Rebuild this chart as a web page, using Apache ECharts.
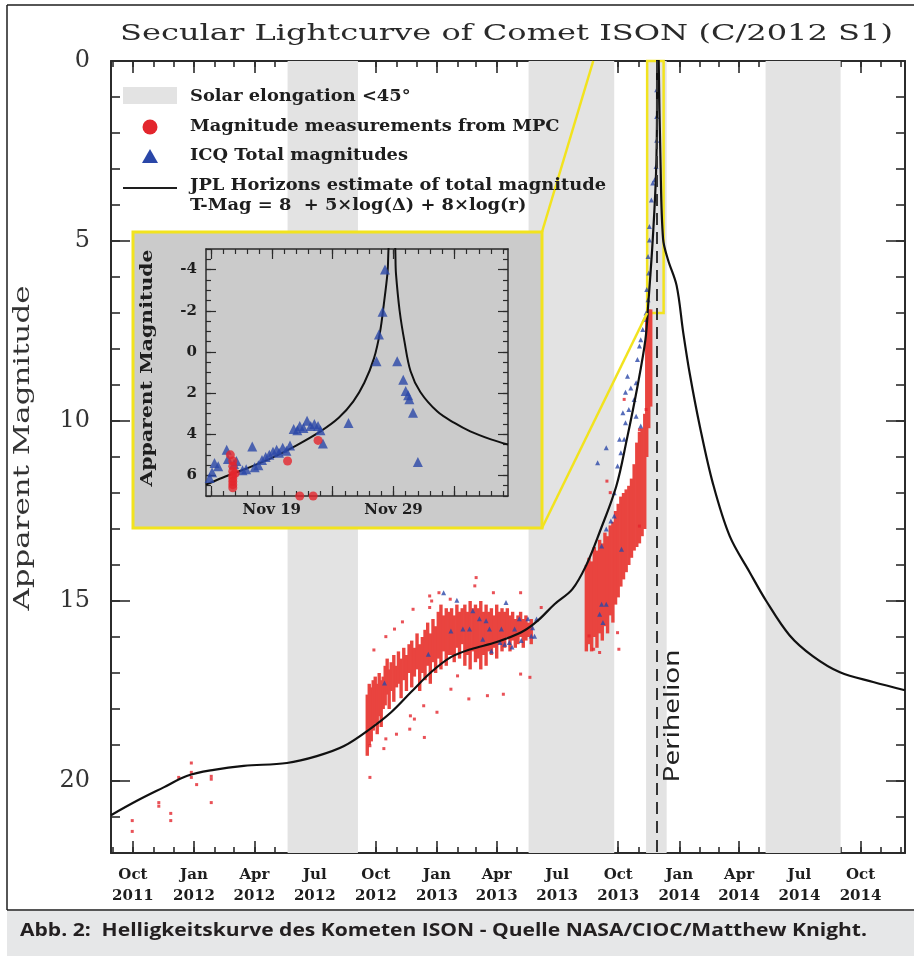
<!DOCTYPE html>
<html>
<head>
<meta charset="utf-8">
<script src="https://cdn.jsdelivr.net/npm/echarts@6/dist/echarts.min.js"></script>
<style>
  html, body { margin: 0; padding: 0; background: #fff; }
  #chart { width: 914px; height: 956px; }
</style>
</head>
<body>
<div id="chart"></div>
<script>
const DAY = 86400000;
const ts = s => Date.parse(s.length === 10 ? s + 'T00:00:00Z' : s + ':00Z');
const nov = d => Date.UTC(2013, 10, 1) + (d - 1) * DAY;   // day of Nov 2013 (32 = Dec 2)

// ---- main axes ----
const X_MIN = '2011-08-29', X_MAX = '2014-12-07';
const MAG_MIN = 0, MAG_MAX = 22;
const MAG_TICKS = [0, 5, 10, 15, 20];
const QUARTER_TICKS = ['2011-10-01', '2012-01-01', '2012-04-01', '2012-07-01', '2012-10-01',
  '2013-01-01', '2013-04-01', '2013-07-01', '2013-10-01', '2014-01-01', '2014-04-01',
  '2014-07-01', '2014-10-01'];
const MONTHS = ['Jan', 'Feb', 'Mar', 'Apr', 'May', 'Jun', 'Jul', 'Aug', 'Sep', 'Oct', 'Nov', 'Dec'];
const ELONG_BANDS = [['2012-05-21', '2012-09-04'], ['2013-05-19', '2013-09-25'],
  ['2013-11-12', '2013-12-13'], ['2014-05-11', '2014-09-01']];
const PERIHELION = '2013-11-28T19:00';

// JPL Horizons total magnitude estimate (main panel)
const jplMain = [['2011-08-29', 20.95], ['2011-10-07', 20.55], ['2011-11-17', 20.17], ['2011-12-21', 19.86],
  ['2012-01-31', 19.69], ['2012-03-16', 19.58], ['2012-05-20', 19.50], ['2012-07-04', 19.31],
  ['2012-08-14', 19.03], ['2012-09-24', 18.53], ['2012-10-24', 18.09], ['2012-11-23', 17.53],
  ['2012-12-23', 16.98], ['2013-01-22', 16.56], ['2013-02-21', 16.34], ['2013-04-01', 16.14],
  ['2013-05-08', 15.87], ['2013-06-01', 15.56], ['2013-06-27', 15.09], ['2013-07-24', 14.67],
  ['2013-08-14', 14.0], ['2013-09-03', 13.09], ['2013-09-28', 11.82], ['2013-10-14', 10.51],
  ['2013-10-30', 9.04], ['2013-11-11', 7.74], ['2013-11-15', 6.82], ['2013-11-22', 4.97],
  ['2013-11-27', 3.12], ['2013-11-28T12:00', 1.27], ['2013-11-28T19:00', -3], ['2013-12-01', 0.0],
  ['2013-12-03T16:00', 2.75], ['2013-12-07T14:00', 4.94], ['2013-12-15', 5.52], ['2013-12-28', 6.24],
  ['2014-01-07', 7.55], ['2014-01-17', 8.71], ['2014-02-01', 10.15], ['2014-02-21', 11.76],
  ['2014-03-18', 13.2], ['2014-04-17', 14.2], ['2014-05-12', 15.0], ['2014-06-16', 15.95],
  ['2014-07-21', 16.53], ['2014-08-31', 16.98], ['2014-10-20', 17.25], ['2014-12-07', 17.48]];

// MPC measurements: dense nights as [date, brightest, faintest]
const mpcColumns = [
  ['2012-09-18', 17.6, 19.3], ['2012-09-21', 17.3, 19.0], ['2012-09-24', 17.4, 18.9], ['2012-09-27', 17.2, 18.6],
  ['2012-09-30', 17.1, 18.4], ['2012-10-03', 17.3, 18.7], ['2012-10-06', 17.0, 18.2], ['2012-10-09', 17.2, 18.5],
  ['2012-10-12', 17.1, 18.0], ['2012-10-15', 16.8, 17.9], ['2012-10-18', 16.6, 17.6], ['2012-10-21', 16.9, 18.0],
  ['2012-10-24', 16.7, 17.5], ['2012-10-28', 16.5, 17.8], ['2012-11-01', 16.8, 17.4], ['2012-11-04', 16.4, 17.3],
  ['2012-11-08', 16.6, 17.7], ['2012-11-12', 16.3, 17.2], ['2012-11-16', 16.5, 17.5], ['2012-11-20', 16.2, 17.0],
  ['2012-11-24', 16.1, 17.4], ['2012-11-28', 16.3, 17.1], ['2012-12-02', 15.9, 16.9], ['2012-12-06', 16.2, 17.5],
  ['2012-12-10', 16.0, 17.0], ['2012-12-14', 15.8, 17.2], ['2012-12-18', 15.6, 16.8], ['2012-12-22', 15.9, 17.3],
  ['2012-12-26', 15.5, 16.7], ['2012-12-30', 15.7, 17.0], ['2013-01-03', 15.3, 16.6], ['2013-01-07', 15.1, 16.9],
  ['2013-01-11', 15.4, 16.4], ['2013-01-15', 15.2, 16.8], ['2013-01-19', 15.3, 16.5], ['2013-01-23', 15.2, 16.5],
  ['2013-01-27', 15.4, 16.7], ['2013-01-31', 15.1, 16.3], ['2013-02-04', 15.3, 16.6], ['2013-02-08', 15.2, 16.2],
  ['2013-02-12', 15.1, 16.8], ['2013-02-16', 15.3, 16.5], ['2013-02-20', 15.0, 16.9], ['2013-02-24', 15.2, 16.4],
  ['2013-02-28', 15.1, 16.7], ['2013-03-04', 15.2, 16.6], ['2013-03-08', 15.0, 16.9], ['2013-03-12', 15.3, 16.5],
  ['2013-03-16', 15.1, 16.8], ['2013-03-20', 15.3, 16.4], ['2013-03-24', 15.2, 16.5], ['2013-03-28', 15.4, 16.3],
  ['2013-04-01', 15.1, 16.6], ['2013-04-05', 15.3, 16.2], ['2013-04-09', 15.2, 16.4], ['2013-04-13', 15.3, 16.3],
  ['2013-04-17', 15.2, 16.0], ['2013-04-21', 15.4, 16.4], ['2013-04-25', 15.3, 16.1], ['2013-04-29', 15.5, 16.3],
  ['2013-05-03', 15.4, 16.2], ['2013-05-07', 15.3, 16.0], ['2013-05-11', 15.5, 16.3], ['2013-05-15', 15.4, 16.1],
  ['2013-05-19', 15.6, 16.0], ['2013-05-23', 15.5, 16.2],
  ['2013-08-14', 14.0, 16.4], ['2013-08-18', 13.8, 16.2], ['2013-08-22', 13.9, 16.4], ['2013-08-26', 13.5, 16.0],
  ['2013-08-30', 13.6, 16.3], ['2013-09-03', 13.3, 15.9], ['2013-09-07', 13.4, 16.1], ['2013-09-11', 13.1, 15.7],
  ['2013-09-15', 13.2, 15.9], ['2013-09-19', 12.9, 15.4], ['2013-09-23', 12.8, 15.6], ['2013-09-27', 12.5, 15.1],
  ['2013-10-01', 12.3, 14.9], ['2013-10-05', 12.1, 14.6], ['2013-10-09', 12.0, 14.4], ['2013-10-13', 11.9, 14.2],
  ['2013-10-17', 11.8, 14.0], ['2013-10-21', 11.6, 13.8], ['2013-10-25', 11.2, 13.6], ['2013-10-29', 10.6, 13.5],
  ['2013-11-02', 10.3, 13.4], ['2013-11-06', 10.2, 13.2], ['2013-11-10', 9.8, 13.0], ['2013-11-13', 7.0, 11.0],
  ['2013-11-16', 6.9, 10.2], ['2013-11-19', 6.9, 9.6]];

// MPC measurements: isolated points
const mpcPoints = [
  ['2011-09-30', 21.1], ['2011-09-30', 21.4], ['2011-11-09', 20.6], ['2011-11-09', 20.7], ['2011-11-27', 20.9],
  ['2011-11-27', 21.1], ['2011-12-09', 19.9], ['2011-12-28', 19.5], ['2011-12-28', 19.76], ['2011-12-28', 19.9],
  ['2012-01-05', 20.1], ['2012-01-27', 19.87], ['2012-01-27', 19.95], ['2012-01-27', 20.6],
  ['2012-09-22', 19.9], ['2012-10-13', 19.1], ['2012-11-01', 18.7], ['2012-11-21', 18.56], ['2012-12-13', 18.79],
  ['2013-03-18', 17.63], ['2013-04-11', 17.59], ['2013-03-01', 14.35], ['2013-02-27', 14.58], ['2013-03-27', 14.77],
  ['2013-05-07', 14.77], ['2012-12-21', 14.86], ['2013-01-04', 14.77], ['2012-10-29', 15.78], ['2012-10-16', 15.99],
  ['2012-11-10', 15.58], ['2012-09-28', 16.36], ['2013-01-01', 18.09], ['2012-11-22', 18.19], ['2012-11-28', 18.28],
  ['2012-12-12', 17.91], ['2013-01-22', 17.45], ['2013-02-01', 17.08], ['2013-02-18', 17.72], ['2013-05-07', 17.03],
  ['2013-05-21', 17.12], ['2012-10-16', 18.83], ['2012-09-22', 19.02], ['2012-11-26', 15.23], ['2012-12-21', 15.18],
  ['2012-12-24', 15.0], ['2013-01-21', 14.95],
  ['2013-06-07', 15.18], ['2013-09-14', 11.67], ['2013-09-19', 11.99], ['2013-10-10', 9.4], ['2013-11-02', 10.24],
  ['2013-08-18', 15.97], ['2013-08-25', 16.34], ['2013-10-02', 16.34], ['2013-09-30', 15.88], ['2013-09-03', 16.43],
  ['2013-11-02', 12.92], ['2013-11-12', 9.68]];

// ICQ total magnitudes (main panel)
const icqMain = [
  ['2012-10-14', 17.28], ['2012-12-19', 16.48], ['2013-01-11', 14.77], ['2013-01-22', 15.83], ['2013-01-31', 14.98],
  ['2013-02-09', 15.78], ['2013-02-19', 15.78], ['2013-02-24', 15.27], ['2013-03-06', 15.49], ['2013-03-11', 16.06],
  ['2013-03-16', 15.55], ['2013-03-21', 15.78], ['2013-03-24', 16.39], ['2013-04-06', 16.15], ['2013-04-08', 15.78],
  ['2013-04-13', 16.2], ['2013-04-15', 15.04], ['2013-04-20', 16.15], ['2013-04-24', 16.28], ['2013-04-28', 15.78],
  ['2013-05-05', 15.49], ['2013-05-08', 16.1], ['2013-05-18', 15.49], ['2013-05-23', 15.97], ['2013-05-25', 15.74],
  ['2013-05-28', 15.98], ['2013-05-31', 15.5],
  ['2013-08-31', 11.16], ['2013-09-13', 10.74], ['2013-09-06', 15.09], ['2013-09-03', 15.37], ['2013-09-13', 15.09],
  ['2013-09-08', 15.6], ['2013-10-06', 13.56], ['2013-09-20', 12.78], ['2013-09-13', 13.0], ['2013-09-06', 13.47],
  ['2013-09-25', 11.99], ['2013-09-25', 12.64], ['2013-09-30', 11.25], ['2013-10-05', 10.88], ['2013-10-10', 10.51],
  ['2013-10-08', 9.77], ['2013-10-15', 8.76], ['2013-10-20', 9.08], ['2013-10-25', 9.4], ['2013-10-28', 8.94],
  ['2013-10-30', 8.29], ['2013-11-02', 7.92], ['2013-11-04', 7.74], ['2013-11-07', 7.46], ['2013-11-09', 7.18],
  ['2013-11-12', 7.0], ['2013-10-17', 9.68], ['2013-10-12', 10.05], ['2013-10-03', 10.51], ['2013-10-12', 9.2],
  ['2013-11-04', 10.14], ['2013-10-28', 9.87],
  ['2013-11-13', 6.35], ['2013-11-15', 6.63], ['2013-11-15', 5.43], ['2013-11-16', 5.89], ['2013-11-17', 4.97],
  ['2013-11-17', 4.6], ['2013-11-20', 3.86], ['2013-11-22', 3.39], ['2013-11-25', 3.3], ['2013-11-27', 2.93],
  ['2013-11-28', 1.54], ['2013-11-28', 0.8], ['2013-11-28', 2.2]];

// ---- inset (days of Nov 2013) ----
const INSET_DAYS = [13.6, 38.4];
const INSET_MAG = [-5, 7];
const INSET_LABEL_DAYS = [19, 29];
const INSET_MAJOR_DAYS = [14, 19, 24, 29, 34];
const INSET_MAG_TICKS = [-4, -2, 0, 2, 4, 6];

const jplInset = [[13.6, 6.45], [15, 6.1], [17, 5.65], [19, 5.15], [21, 4.55], [23, 3.86], [24.5, 3.2],
  [25.7, 2.4], [26.6, 1.5], [27.4, 0.3], [27.9, -1.0], [28.2, -2.3], [28.5, -3.8], [28.7, -5.3],
  [29.05, -5.3], [29.2, -3.8], [29.5, -2.0], [29.9, -0.5], [30.4, 0.94], [31.2, 1.95], [32.6, 2.9],
  [34, 3.45], [35.3, 3.86], [37, 4.25], [38.4, 4.5]];
const icqInset = [[13.9, 6.13], [14.1, 5.85], [14.3, 5.4], [14.6, 5.55], [15.3, 4.75], [15.4, 5.2], [15.9, 5.45],
  [16.1, 5.3], [16.6, 5.75], [16.9, 5.7], [17.4, 4.6], [17.6, 5.6], [17.9, 5.5], [18.2, 5.25], [18.5, 5.1],
  [18.8, 5.0], [19.1, 4.85], [19.4, 4.75], [19.6, 4.9], [19.9, 4.65], [20.2, 4.8], [20.5, 4.55], [20.8, 3.75],
  [21.1, 3.8], [21.3, 3.6], [21.6, 3.7], [21.9, 3.35], [22.2, 3.6], [22.5, 3.5], [22.8, 3.6], [23.0, 3.8],
  [23.2, 4.45], [25.3, 3.45], [27.6, 0.45], [27.8, -0.85], [28.1, -1.95], [28.3, -4.0], [29.3, 0.45],
  [29.8, 1.35], [30.0, 1.9], [30.2, 2.1], [30.3, 2.3], [30.6, 2.95], [31.0, 5.35]];
const mpcInset = [[15.6, 5.0], [15.8, 5.3], [15.8, 5.55], [15.8, 5.8], [15.8, 6.0], [15.8, 6.15], [15.8, 6.3],
  [15.8, 6.45], [15.8, 6.6], [16.0, 5.9], [20.3, 5.3], [21.3, 7.0], [22.4, 7.0], [22.8, 4.3]];

// ---- styling ----
const RED = '#e3262d', CLOUD = '#e9443f', BLUE = '#2a47a8', YELLOW = '#f2e31e', INK = '#1e1e1e', AX = '#2b2b2b';
const SERIF = '"DejaVu Serif", serif';

const monthTicks = [], magMinor = [], insetMinorDays = [], insetMinorMag = [];
for (let y = 2011; y <= 2014; y++) for (let m = 0; m < 12; m++) {
  const t = Date.UTC(y, m, 1);
  if (t >= ts(X_MIN) && t <= ts(X_MAX)) monthTicks.push(t);
}
for (let m = MAG_MIN; m <= MAG_MAX; m++) magMinor.push(m);
for (let d = 14; d <= 38; d++) insetMinorDays.push(nov(d));
for (let m = INSET_MAG[0]; m <= INSET_MAG[1]; m += 0.5) insetMinorMag.push(m);

const meas = document.createElement('canvas').getContext('2d');
const widthOf = (text, font) => { meas.font = font; return meas.measureText(text).width; };
function label(text, font, x, y, opts) {
  opts = opts || {};
  const sx = opts.width ? opts.width / widthOf(text, font) : (opts.scale || 1);
  const align = opts.align || 'left';
  return {
    type: 'text', x, y, scaleX: sx, rotation: opts.rotation || 0, z: opts.z || 20,
    style: { text, font, fill: opts.color || INK, align, textAlign: align,
      verticalAlign: 'middle', textVerticalAlign: 'middle' }
  };
}

// axis builders (x values are UTC milliseconds on a plain value axis)
function xAxisDef(grid, pos, min, max, ticks, len, lab, line, z) {
  return {
    type: 'value', gridIndex: grid, position: pos, min, max, z: z || 0, scale: true,
    splitLine: { show: false },
    axisLine: { show: line, onZero: false, lineStyle: { color: AX, width: grid ? 1.5 : 2 } },
    axisTick: { show: true, inside: true, length: len, customValues: ticks,
      lineStyle: { color: AX, width: grid ? 1.2 : 1.6 } },
    axisLabel: lab || { show: false }
  };
}
function yAxisDef(grid, pos, min, max, ticks, len, lab, line, z) {
  return {
    type: 'value', gridIndex: grid, position: pos, min, max, inverse: true, z: z || 0,
    splitLine: { show: false },
    axisLine: { show: line, onZero: false, lineStyle: { color: AX, width: grid ? 1.5 : 2 } },
    axisTick: { show: true, inside: true, length: len, customValues: ticks,
      lineStyle: { color: AX, width: grid ? 1.2 : 1.6 } },
    axisLabel: lab || { show: false }
  };
}

const xMin = ts(X_MIN), xMax = ts(X_MAX);
const qTicks = QUARTER_TICKS.map(ts);
const iMin = nov(INSET_DAYS[0]), iMax = nov(INSET_DAYS[1]);
const iMajor = INSET_MAJOR_DAYS.map(nov);

const xAxes = [
  xAxisDef(0, 'bottom', xMin, xMax, qTicks, 12, {
    customValues: qTicks, margin: 12, lineHeight: 21, color: INK,
    fontFamily: SERIF, fontSize: 15, fontWeight: 'bold',
    formatter: v => { const d = new Date(v); return MONTHS[d.getUTCMonth()] + '\n' + d.getUTCFullYear(); }
  }, true),
  xAxisDef(0, 'bottom', xMin, xMax, monthTicks, 6, null, false),
  xAxisDef(0, 'top', xMin, xMax, qTicks, 12, null, true),
  xAxisDef(0, 'top', xMin, xMax, monthTicks, 6, null, false),
  xAxisDef(1, 'bottom', iMin, iMax, iMajor, 10, {
    customValues: INSET_LABEL_DAYS.map(nov), margin: 7, color: INK,
    fontFamily: SERIF, fontSize: 15, fontWeight: 'bold',
    formatter: v => MONTHS[new Date(v).getUTCMonth()] + ' ' + new Date(v).getUTCDate()
  }, true, 12),
  xAxisDef(1, 'bottom', iMin, iMax, insetMinorDays, 5, null, false, 12),
  xAxisDef(1, 'top', iMin, iMax, iMajor, 10, null, true, 12),
  xAxisDef(1, 'top', iMin, iMax, insetMinorDays, 5, null, false, 12)
];
const yAxes = [
  yAxisDef(0, 'left', MAG_MIN, MAG_MAX, MAG_TICKS, 19, {
    customValues: MAG_TICKS, margin: 21, color: '#333', fontFamily: SERIF, fontSize: 24
  }, true),
  yAxisDef(0, 'left', MAG_MIN, MAG_MAX, magMinor, 9, null, false),
  yAxisDef(0, 'right', MAG_MIN, MAG_MAX, MAG_TICKS, 19, null, true),
  yAxisDef(0, 'right', MAG_MIN, MAG_MAX, magMinor, 9, null, false),
  yAxisDef(1, 'left', INSET_MAG[0], INSET_MAG[1], INSET_MAG_TICKS, 10, {
    customValues: INSET_MAG_TICKS, margin: 9, color: INK, fontFamily: SERIF, fontSize: 15, fontWeight: 'bold'
  }, true, 12),
  yAxisDef(1, 'left', INSET_MAG[0], INSET_MAG[1], insetMinorMag, 5, null, false, 12),
  yAxisDef(1, 'right', INSET_MAG[0], INSET_MAG[1], INSET_MAG_TICKS, 10, null, true, 12),
  yAxisDef(1, 'right', INSET_MAG[0], INSET_MAG[1], insetMinorMag, 5, null, false, 12)
];

// inset box (outer, with yellow frame) in pixels
const BOX = { left: 133, top: 232, right: 542, bottom: 528 };

const legendFont = 'bold 16px ' + SERIF;
const legendScale = 416 / widthOf('JPL Horizons estimate of total magnitude', legendFont);
const legendRows = [
  ['Solar elongation <45°', 97], ['Magnitude measurements from MPC', 127], ['ICQ Total magnitudes', 156],
  ['JPL Horizons estimate of total magnitude', 186], ['T-Mag = 8  + 5×log(Δ) + 8×log(r)', 206]];

const graphics = [
  { type: 'rect', z: 0, shape: { x: 7, y: 911, width: 907, height: 45 }, style: { fill: '#e6e7e8' } },
  { type: 'line', z: 30, shape: { x1: 7, y1: 5, x2: 914, y2: 5 }, style: { stroke: INK, lineWidth: 1.5 } },
  { type: 'line', z: 30, shape: { x1: 7, y1: 5, x2: 7, y2: 910 }, style: { stroke: INK, lineWidth: 1.5 } },
  { type: 'line', z: 30, shape: { x1: 7, y1: 910, x2: 914, y2: 910 }, style: { stroke: INK, lineWidth: 1.5 } },
  label('Secular Lightcurve of Comet ISON (C/2012 S1)', '23px ' + SERIF, 120, 34, { width: 773, color: '#2a2a2a' }),
  label('Apparent Magnitude', '22px ' + SERIF, 23, 448, { width: 325, rotation: Math.PI / 2, align: 'center', color: '#333' }),
  // legend
  { type: 'rect', z: 20, shape: { x: 123, y: 87, width: 54, height: 17 }, style: { fill: '#e3e3e3' } },
  { type: 'circle', z: 20, shape: { cx: 150, cy: 127, r: 7.5 }, style: { fill: RED } },
  { type: 'polygon', z: 20, shape: { points: [[142, 163], [158, 163], [150, 149]] }, style: { fill: BLUE } },
  { type: 'line', z: 20, shape: { x1: 123, y1: 188, x2: 177, y2: 188 }, style: { stroke: INK, lineWidth: 2 } },
  ...legendRows.map(([t, y]) => label(t, legendFont, 190, y, { scale: legendScale })),
  label('Perihelion', '21px "Noto Sans", sans-serif', 673.5, 716, { width: 133, rotation: Math.PI / 2, align: 'center', color: '#222' }),
  // inset panel
  { type: 'rect', z: 10, shape: { x: BOX.left, y: BOX.top, width: BOX.right - BOX.left, height: BOX.bottom - BOX.top },
    style: { fill: '#cbcbcb', stroke: YELLOW, lineWidth: 3 } },
  label('Apparent Magnitude', 'bold 16px ' + SERIF, 148, 368, { width: 237, rotation: Math.PI / 2, align: 'center', z: 13 }),
  // caption
  label('Abb. 2:  Helligkeitskurve des Kometen ISON - Quelle NASA/CIOC/Matthew Knight.',
    'bold 18px "Open Sans", sans-serif', 20, 931, { width: 847, color: '#231f20' })
];

const option = {
  animation: false,
  backgroundColor: '#fff',
  grid: [
    { left: 111, top: 61, width: 794, height: 792, outerBoundsMode: 'none' },
    { left: 206, top: 249, width: 302, height: 247, outerBoundsMode: 'none', z: 12 }
  ],
  xAxis: xAxes,
  yAxis: yAxes,
  graphic: graphics,
  series: [
    {
      name: 'Solar elongation <45°', type: 'line', xAxisIndex: 0, yAxisIndex: 0, data: [], z: 1, silent: true,
      markArea: { silent: true, itemStyle: { color: '#e3e3e3' },
        data: ELONG_BANDS.map(([a, b]) => [{ xAxis: ts(a) }, { xAxis: ts(b) }]) }
    },
    {
      name: 'MPC nights', type: 'custom', xAxisIndex: 0, yAxisIndex: 0, z: 2, clip: true, silent: true,
      encode: { x: 0, y: [1, 2] },
      data: mpcColumns.map(([d, a, b]) => [ts(d), a, b]),
      renderItem: (params, api) => {
        const p = api.coord([api.value(0), api.value(1)]);
        const q = api.coord([api.value(0), api.value(2)]);
        return { type: 'rect', shape: { x: p[0] - 1.7, y: p[1], width: 3.4, height: q[1] - p[1] },
          style: { fill: CLOUD } };
      }
    },
    {
      name: 'Magnitude measurements from MPC', type: 'scatter', xAxisIndex: 0, yAxisIndex: 0, z: 2,
      symbol: 'rect', symbolSize: 3, itemStyle: { color: RED },
      data: mpcPoints.map(([d, m]) => [ts(d), m])
    },
    {
      name: 'ICQ Total magnitudes', type: 'scatter', xAxisIndex: 0, yAxisIndex: 0, z: 3,
      symbol: 'triangle', symbolSize: 5, itemStyle: { color: BLUE },
      data: icqMain.map(([d, m]) => [ts(d), m])
    },
    {
      name: 'JPL Horizons estimate of total magnitude', type: 'line', xAxisIndex: 0, yAxisIndex: 0, z: 4,
      showSymbol: false, smooth: 0.35, clip: true,
      lineStyle: { color: '#111', width: 2.2 },
      data: jplMain.map(([d, m]) => [ts(d), m]),
      markLine: { silent: true, symbol: 'none', label: { show: false },
        lineStyle: { color: '#333', width: 2, type: [12, 7] },
        data: [{ xAxis: ts(PERIHELION) }] },
      markArea: { silent: true, itemStyle: { color: 'rgba(0,0,0,0)', borderColor: YELLOW, borderWidth: 2.5 },
        data: [[{ xAxis: iMin, yAxis: MAG_MIN }, { xAxis: iMax, yAxis: INSET_MAG[1] }]] }
    },
    {
      name: 'inset JPL', type: 'line', xAxisIndex: 4, yAxisIndex: 4, z: 12, showSymbol: false,
      smooth: 0.35, clip: true, lineStyle: { color: '#111', width: 2 },
      data: jplInset.map(([d, m]) => [nov(d), m])
    },
    {
      name: 'inset ICQ', type: 'scatter', xAxisIndex: 4, yAxisIndex: 4, z: 13,
      symbol: 'triangle', symbolSize: 10, itemStyle: { color: BLUE },
      data: icqInset.map(([d, m]) => [nov(d), m])
    },
    {
      name: 'inset MPC', type: 'scatter', xAxisIndex: 4, yAxisIndex: 4, z: 13,
      symbol: 'circle', symbolSize: 9, itemStyle: { color: RED },
      data: mpcInset.map(([d, m]) => [nov(d), m])
    }
  ]
};

const chart = echarts.init(document.getElementById('chart'), null, { renderer: 'canvas' });
chart.setOption(option);

// yellow connectors from the inset's right corners to the zoom box in the main panel
const finder = { xAxisIndex: 0, yAxisIndex: 0 };
const pTop = chart.convertToPixel(finder, [iMin, INSET_MAG[0]]);
const pBot = chart.convertToPixel(finder, [iMin, INSET_MAG[1]]);
const yTop = chart.convertToPixel(finder, [iMin, MAG_MIN])[1];
const t = (BOX.top - yTop) / (BOX.top - pTop[1]);
const connectors = [
  { type: 'line', z: 9, shape: { x1: BOX.right, y1: BOX.top, x2: BOX.right + t * (pTop[0] - BOX.right), y2: yTop },
    style: { stroke: YELLOW, lineWidth: 2.5 } },
  { type: 'line', z: 9, shape: { x1: BOX.right, y1: BOX.bottom, x2: pBot[0], y2: pBot[1] },
    style: { stroke: YELLOW, lineWidth: 2.5 } }
];
chart.setOption({ graphic: graphics.concat(connectors) });
</script>
</body>
</html>
